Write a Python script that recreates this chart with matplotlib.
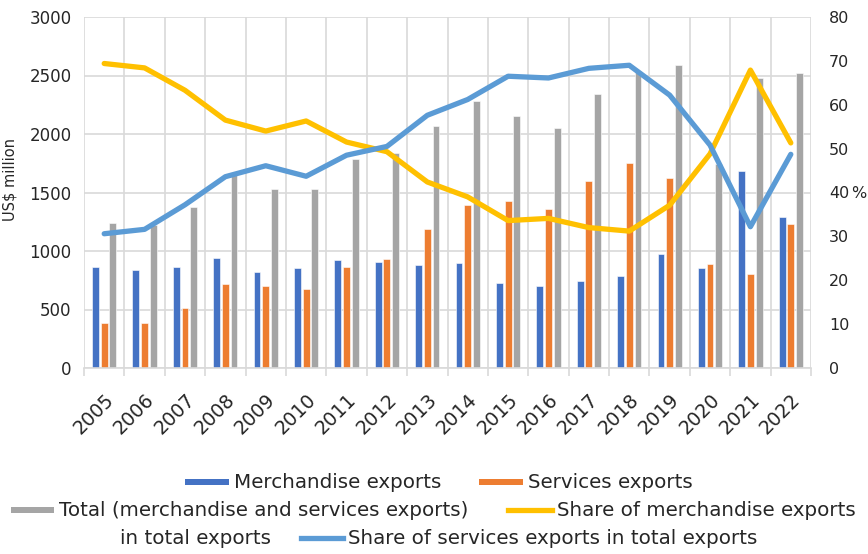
import matplotlib
matplotlib.use("Agg")
import matplotlib.pyplot as plt
import matplotlib.transforms as mtransforms
import numpy as np
from matplotlib.patches import Rectangle
from matplotlib.lines import Line2D

years = ["2005", "2006", "2007", "2008", "2009", "2010", "2011", "2012", "2013",
         "2014", "2015", "2016", "2017", "2018", "2019", "2020", "2021", "2022"]
merchandise = [866, 838, 866, 937, 823, 857, 923, 909, 880, 895, 724, 701, 744, 786, 972, 857, 1686, 1293]
services = [382, 387, 510, 722, 703, 672, 866, 929, 1191, 1390, 1430, 1356, 1598, 1749, 1621, 886, 801, 1228]
total = [1242, 1225, 1379, 1659, 1527, 1527, 1783, 1840, 2068, 2282, 2154, 2054, 2339, 2535, 2587, 1745, 2481, 2524]
share_merch = [69.4, 68.4, 63.3, 56.5, 54.0, 56.3, 51.5, 49.3, 42.4, 39.0, 33.6, 34.1, 32.0, 31.2, 37.1, 48.8, 67.9, 51.3]
share_serv = [30.6, 31.6, 37.2, 43.6, 46.1, 43.7, 48.5, 50.5, 57.6, 61.2, 66.5, 66.1, 68.3, 69.0, 62.2, 50.8, 32.2, 48.7]

FONT = "DejaVu Sans"
plt.rcParams['font.family'] = [FONT]
TXT = "#262626"
GRID = "#d9d9d9"
C_BLUE = "#4472c4"
C_ORANGE = "#ed7d31"
C_GRAY = "#a5a5a5"
C_YELLOW = "#ffc000"
C_LBLUE = "#5b9bd5"

W, H = 868, 554
fig = plt.figure(figsize=(W / 100, H / 100), dpi=100)
ax = fig.add_axes([84 / W, 1 - 368 / H, (811 - 84) / W, (368 - 17) / H])
ax2 = ax.twinx()

x = np.arange(len(years))
bw = 0.17
off = 0.215
ax.bar(x - off, merchandise, bw, color=C_BLUE, edgecolor="white", linewidth=0.4, zorder=2)
ax.bar(x, services, bw, color=C_ORANGE, edgecolor="white", linewidth=0.4, zorder=2)
ax.bar(x + off, total, bw, color=C_GRAY, edgecolor="white", linewidth=0.4, zorder=2)

ax2.plot(x, share_merch, color=C_YELLOW, lw=3.8, solid_capstyle="round", solid_joinstyle="round", zorder=3)
ax2.plot(x, share_serv, color=C_LBLUE, lw=3.8, solid_capstyle="round", solid_joinstyle="round", zorder=3)

ax.set_xlim(-0.5, len(years) - 0.5)
ax.set_ylim(0, 3000)
ax2.set_ylim(0, 80)
ax.set_yticks(np.arange(0, 3001, 500))
ax2.set_yticks(np.arange(0, 81, 10))

ax.set_xticks(x)
ax.set_xticklabels(years, rotation=45, ha="right", rotation_mode="anchor", fontsize=13.8, color=TXT)
shift = mtransforms.ScaledTranslation(-7 / 100, 0, fig.dpi_scale_trans)
for lab in ax.get_xticklabels():
    lab.set_transform(lab.get_transform() + shift)
ax.set_xticks(np.arange(-0.5, len(years), 1), minor=True)
ax.tick_params(axis="x", which="major", length=0, pad=16)
ax.tick_params(axis="x", which="minor", length=6, color=GRID, width=1.2)
ax.tick_params(axis="y", length=0, pad=9, labelsize=12, labelcolor=TXT)
ax2.tick_params(axis="y", length=0, pad=13, labelsize=11.5, labelcolor=TXT)

ax.grid(True, axis="y", color=GRID, lw=1.2, zorder=0)
ax.grid(True, axis="x", which="minor", color=GRID, lw=1.2, zorder=0)
ax.set_axisbelow(True)
for s in ["top", "left", "right"]:
    ax.spines[s].set_visible(False)
    ax2.spines[s].set_visible(False)
ax.spines["bottom"].set_color(GRID)
ax.spines["bottom"].set_linewidth(1.2)
ax2.spines["bottom"].set_visible(False)

ax.set_ylabel("US$ million", fontsize=10.5, color=TXT)
ax.yaxis.set_label_coords(-0.092, 0.538)
fig.text(866 / W, 1 - 193 / H, "%", fontsize=11.5, color=TXT, ha="right", va="center")

# legend (manual, Excel-like flow layout)
LFS = 14.3
def px(xp, yp):
    return xp / W, 1 - yp / H

def patch_entry(x0, x1, yc, color, label):
    fig.patches.append(Rectangle(px(x0, yc + 3), (x1 - x0) / W, 6 / H, transform=fig.transFigure,
                                 facecolor=color, edgecolor="none"))
    fig.text(*px(x1 + 5, yc), label, fontsize=LFS, color=TXT, ha="left", va="center")

def line_entry(x0, x1, yc, color, label):
    fig.lines.append(Line2D([x0 / W, x1 / W], [1 - yc / H, 1 - yc / H], transform=fig.transFigure,
                            color=color, lw=3.8))
    fig.text(*px(x1 + 5, yc), label, fontsize=LFS, color=TXT, ha="left", va="center")

patch_entry(185, 229, 482, C_BLUE, "Merchandise exports")
patch_entry(479, 523, 482, C_ORANGE, "Services exports")
patch_entry(11, 54, 510, C_GRAY, "Total (merchandise and services exports)")
line_entry(508, 552, 510, C_YELLOW, "Share of merchandise exports")
fig.text(*px(120, 538), "in total exports", fontsize=LFS, color=TXT, ha="left", va="center")
line_entry(301, 343, 538, C_LBLUE, "Share of services exports in total exports")

fig.savefig("out.png", dpi=100)
